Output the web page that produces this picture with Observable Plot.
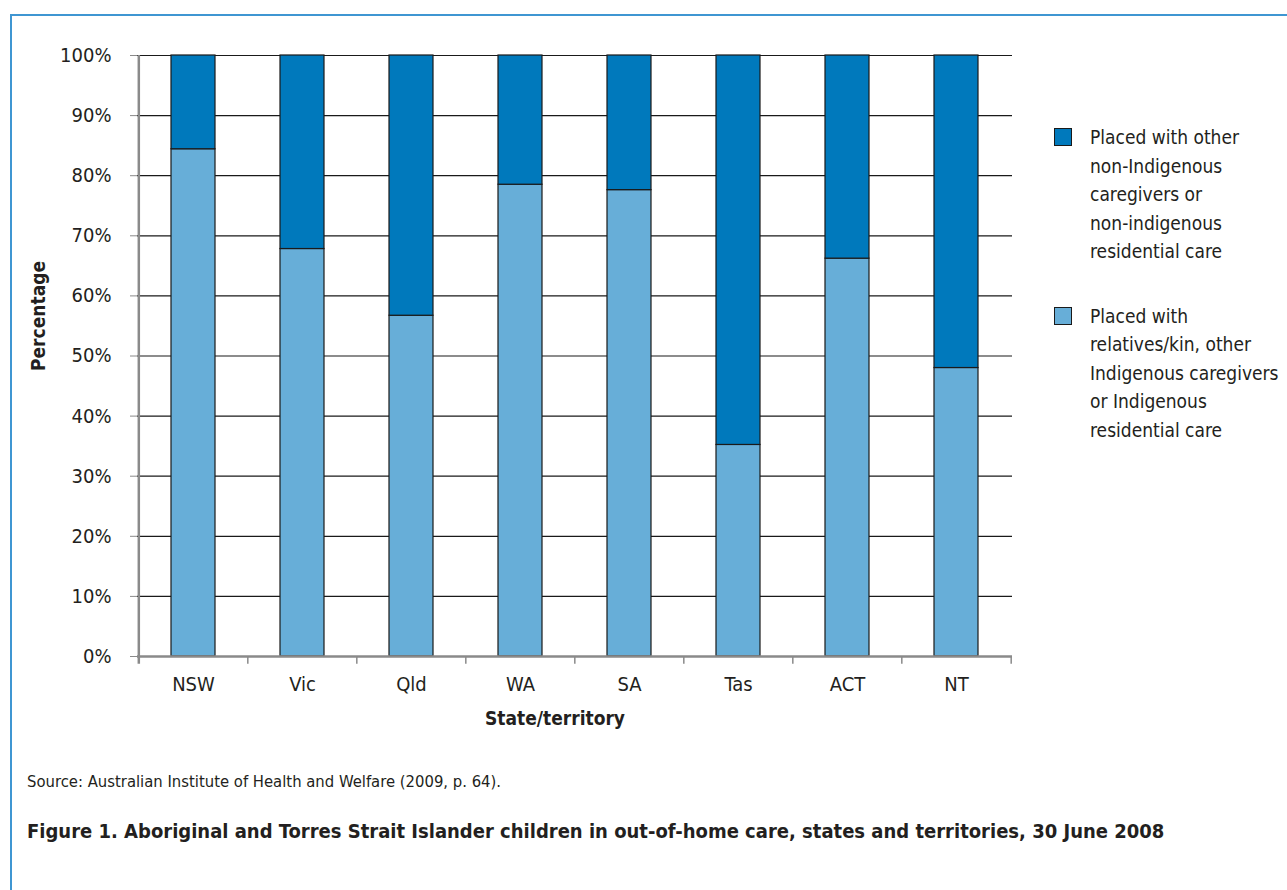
<!DOCTYPE html>
<html>
<head>
<meta charset="utf-8">
<script src="https://cdn.jsdelivr.net/npm/d3@7"></script>
<script src="https://cdn.jsdelivr.net/npm/@observablehq/plot@0.6"></script>
<style>
  html, body { margin: 0; padding: 0; width: 1287px; height: 890px; overflow: hidden; background: #fff; }
  body { font-family: "DejaVu Sans Condensed", "Liberation Sans", sans-serif; color: #231f20; position: relative; }
  #frame { position: absolute; left: 10px; top: 14px; width: 1400px; height: 1000px; border-top: 2px solid #3f96d2; border-left: 2px solid #3f96d2; }
  #chart { position: absolute; left: 0; top: 0; }
  #ylabel { position: absolute; left: 38px; top: 316px; transform: translate(-50%, -50%) rotate(-90deg); font-weight: bold; font-size: 19px; white-space: nowrap; }
  #legend { position: absolute; left: 1054px; top: 123px; font-size: 19px; line-height: 28.5px; }
  .item { position: relative; padding-left: 36px; margin-bottom: 36px; }
  .sw { position: absolute; left: 0; top: 5px; width: 18px; height: 18px; border: 1px solid #1a1a1a; box-sizing: border-box; }
  #source { position: absolute; left: 27px; top: 772px; font-size: 16.5px; }
  #title { position: absolute; left: 27px; top: 819px; font-size: 20px; font-weight: bold; }
</style>
</head>
<body>
<div id="frame"></div>
<div id="chart"></div>
<div id="ylabel">Percentage</div>
<div id="legend"></div>
<div id="source">Source: Australian Institute of Health and Welfare (2009, p. 64).</div>
<div id="title">Figure 1. Aboriginal and Torres Strait Islander children in out-of-home care, states and territories, 30 June 2008</div>
<script>
const states = ["NSW", "Vic", "Qld", "WA", "SA", "Tas", "ACT", "NT"];
const indigenousPct = [84.4, 67.8, 56.7, 78.5, 77.6, 35.2, 66.2, 48.0];
const seriesNames = [
  "Placed with other non-Indigenous caregivers or non-indigenous residential care",
  "Placed with relatives/kin, other Indigenous caregivers or Indigenous residential care"
];
const seriesColors = ["#0079bc", "#67aed8"];
const legendLines = [
  ["Placed with other", "non-Indigenous", "caregivers or", "non-indigenous", "residential care"],
  ["Placed with", "relatives/kin, other", "Indigenous caregivers", "or Indigenous", "residential care"]
];
const yTicks = [0, 10, 20, 30, 40, 50, 60, 70, 80, 90, 100];

const rows = [];
states.forEach((s, i) => {
  rows.push({state: s, series: seriesNames[1], value: indigenousPct[i], order: 0});
  rows.push({state: s, series: seriesNames[0], value: 100 - indigenousPct[i], order: 1});
});

const W = 1040, H = 740, mL = 137, mR = 28, mT = 55, mB = 84;
const step = (W - mL - mR) / states.length;
const font = '"DejaVu Sans Condensed", "Liberation Sans", sans-serif';
const axisGray = "#8a8a8a";

const chart = Plot.plot({
  width: W, height: H,
  marginLeft: mL, marginRight: mR, marginTop: mT, marginBottom: mB,
  style: {fontFamily: font, fontSize: "20px", color: "#231f20", background: "transparent", overflow: "visible"},
  x: {domain: states, paddingInner: 0.6, paddingOuter: 0.3, label: null},
  y: {domain: [0, 100], label: null},
  color: {domain: seriesNames, range: seriesColors},
  marks: [
    Plot.ruleY(yTicks.filter(d => d > 0), {stroke: "#1a1a1a", strokeWidth: 1.2}),
    Plot.barY(rows, Plot.stackY({order: "order"}, {x: "state", y: "value", fill: "series", stroke: "#1a1a1a", strokeWidth: 1.2, order: "order"})),
    Plot.ruleY([0], {stroke: axisGray, strokeWidth: 2.5}),
    Plot.ruleX(states.slice(0, 1), {x: d => d, y1: -1.3, y2: 100, dx: -step / 2, stroke: axisGray, strokeWidth: 2.5}),
    Plot.ruleX(states.slice(1), {x: d => d, y1: 0, y2: -1.3, dx: -step / 2, stroke: axisGray, strokeWidth: 1.5}),
    Plot.ruleX(states.slice(-1), {x: d => d, y1: 0, y2: -1.3, dx: step / 2, stroke: axisGray, strokeWidth: 1.5}),
    Plot.axisY({ticks: yTicks, tickFormat: d => d + "%", tickSize: 7, tickPadding: 19, stroke: axisGray, label: null, fontSize: 20}),
    Plot.axisX({tickSize: 0, tickPadding: 20, label: "State/territory", labelAnchor: "center", labelOffset: 68, fontSize: 20}),
  ]
});
chart.querySelectorAll("[aria-label='x-axis label']").forEach(el => { el.style.fontWeight = "bold"; el.style.fontSize = "19px"; el.setAttribute("transform", (el.getAttribute("transform") || "") + " translate(-20,0)"); });
document.getElementById("chart").appendChild(chart);

const legend = document.getElementById("legend");
[0, 1].forEach(i => {
  const item = document.createElement("div");
  item.className = "item";
  const sw = document.createElement("div");
  sw.className = "sw";
  sw.style.background = seriesColors[i];
  item.appendChild(sw);
  item.appendChild(Object.assign(document.createElement("div"), {innerHTML: legendLines[i].join("<br>")}));
  legend.appendChild(item);
});
</script>
</body>
</html>
